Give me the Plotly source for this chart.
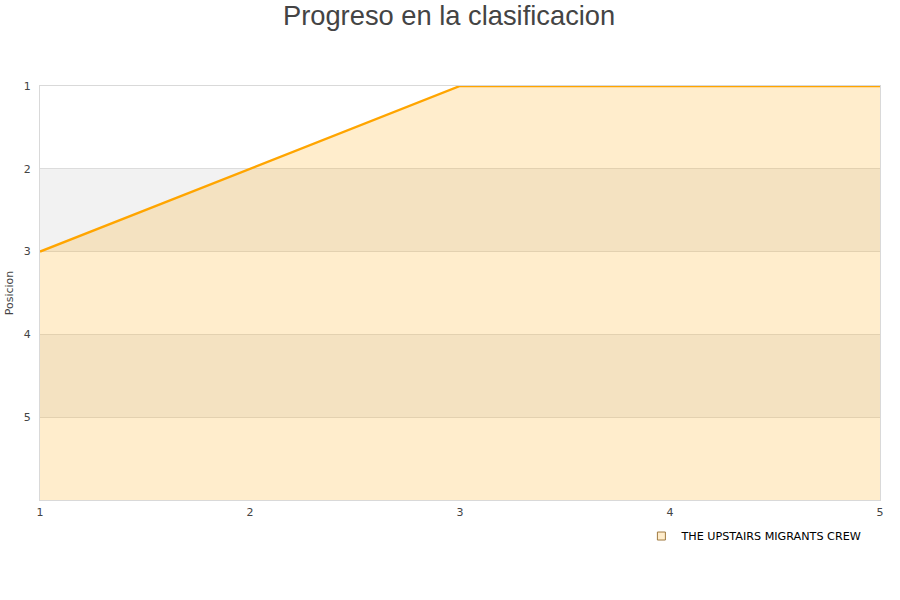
import plotly.graph_objects as go

# ── datos ─────────────────────────────────────────────────────────────────────
jornadas = [1, 2, 3, 4, 5]
posiciones = [3, 2, 1, 1, 1]
equipo = "THE UPSTAIRS MIGRANTS CREW"
y_ticks = [1, 2, 3, 4, 5]
y_fondo = 6  # fondo del área (eje invertido)

fig = go.Figure()

# línea base invisible para rellenar hasta abajo
fig.add_trace(go.Scatter(
    x=jornadas, y=[y_fondo] * len(jornadas),
    mode="lines", line=dict(width=0, color="rgba(0,0,0,0)"),
    showlegend=False, hoverinfo="skip",
))
fig.add_trace(go.Scatter(
    x=jornadas, y=posiciones,
    mode="lines", name=equipo, showlegend=False,
    line=dict(color="#ffa500", width=2.4),
    fill="tonexty", fillcolor="rgba(255,165,0,0.2)",
))
# entrada de leyenda con cuadrado
fig.add_trace(go.Scatter(
    x=[None], y=[None], mode="markers", name=equipo,
    marker=dict(symbol="square", size=8, color="#ffedcc",
                line=dict(color="#a07a40", width=1)),
))

# bandas grises alternas
for lo, hi in zip(y_ticks[1::2], y_ticks[2::2]):
    fig.add_shape(type="rect", xref="x domain", yref="y",
                  x0=0, x1=1, y0=lo, y1=hi, layer="below",
                  fillcolor="#f2f2f2", line=dict(width=0))

fig.update_layout(
    width=900, height=600,
    paper_bgcolor="white", plot_bgcolor="white",
    margin=dict(l=40, r=20, t=86, b=100),
    title=dict(text="Progreso en la clasificacion", x=0.499, xanchor="center",
               y=0.974, yanchor="middle",
               font=dict(family="Liberation Sans", size=27.3, color="#444444")),
    font=dict(family="DejaVu Sans", size=11, color="#444444"),
    showlegend=True,
    legend=dict(x=0.985, xanchor="right", y=-0.087, yanchor="middle",
                itemwidth=30,
                font=dict(size=11.2, color="#000000"), bgcolor="rgba(0,0,0,0)"),
)
fig.update_xaxes(
    range=[1, 5], tickvals=jornadas, showgrid=False, zeroline=False,
    showline=True, linecolor="#d9d9d9", linewidth=1, mirror=True,
    ticks="", ticklabelstandoff=2, automargin=False,
    tickfont=dict(size=11, color="#444444"),
)
fig.update_yaxes(
    range=[y_fondo, 1], tickvals=y_ticks, showgrid=True, gridcolor="#dcdcdc",
    zeroline=False, showline=True, linecolor="#d9d9d9", linewidth=1, mirror=True,
    ticks="", ticklabelstandoff=6, automargin=False,
    tickfont=dict(size=11, color="#444444"),
    title=dict(text="Posicion", font=dict(size=11, color="#444444"), standoff=7),
)

# sin margen de página, para que la figura empiece en (0, 0)
fig.write_html("out.html", config={"displayModeBar": False},
               post_script="document.body.style.margin='0';")
